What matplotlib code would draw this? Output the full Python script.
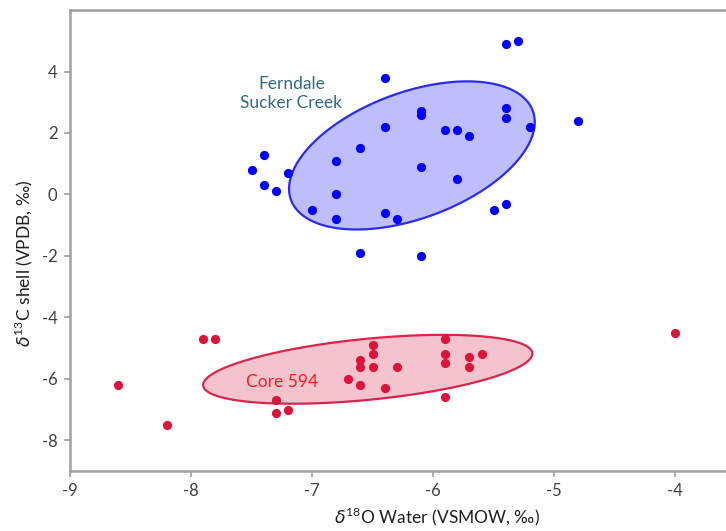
import numpy as np
import matplotlib
matplotlib.use("Agg")
import matplotlib.pyplot as plt

plt.rcParams['font.family'] = ['Lato', 'DejaVu Sans']
plt.rcParams['mathtext.fontset'] = 'custom'
plt.rcParams['mathtext.it'] = 'DejaVu Sans:italic'
plt.rcParams['mathtext.rm'] = 'Lato'

# Ferndale / Sucker Creek shells
ferndale_o18 = [-7.4, -7.5, -7.4, -7.3, -7.2, -6.8, -6.8, -7.0, -6.8, -6.6, -6.6,
                -5.4, -5.3, -6.4, -6.1, -6.1, -5.4, -5.4, -4.8, -5.2, -6.4,
                -5.9, -5.8, -5.7, -6.1, -5.8, -6.4, -6.3, -5.5, -5.4, -6.1]
ferndale_c13 = [1.3, 0.8, 0.3, 0.1, 0.7, 1.1, 0.0, -0.5, -0.8, 1.5, -1.9,
                4.9, 5.0, 3.8, 2.7, 2.6, 2.8, 2.5, 2.4, 2.2, 2.2,
                2.1, 2.1, 1.9, 0.9, 0.5, -0.6, -0.8, -0.5, -0.3, -2.0]

# Core 594 shells
core_o18 = [-8.6, -8.2, -7.9, -7.8, -7.3, -7.3, -7.2, -6.7, -6.6, -6.6, -6.6,
            -6.5, -6.5, -6.5, -6.3, -6.4, -5.9, -5.9, -5.9, -5.9, -5.7, -5.7,
            -5.6, -4.0]
core_c13 = [-6.2, -7.5, -4.7, -4.7, -6.7, -7.1, -7.0, -6.0, -5.4, -5.6, -6.2,
            -4.9, -5.2, -5.6, -5.6, -6.3, -4.7, -5.2, -5.5, -6.6, -5.3, -5.6,
            -5.2, -4.5]

# Ellipse outlines: centre, half-extent in x, half-extent in y, correlation
ferndale_ellipse = (-6.175, 1.27, 1.015, 2.41, 0.45)
core_ellipse = (-6.54, -5.69, 1.36, 1.12, 0.456)

x_ticks = [-9, -8, -7, -6, -5, -4]
y_ticks = [-8, -6, -4, -2, 0, 2, 4]


def ellipse_xy(cx, cy, rx, ry, rho, n=400):
    t = np.linspace(0, 2 * np.pi, n)
    x = cx + rx * np.cos(t)
    y = cy + ry * (rho * np.cos(t) + np.sqrt(1 - rho ** 2) * np.sin(t))
    return x, y


fig = plt.figure(figsize=(7.26, 5.31), dpi=100)
ax = fig.add_axes([0.0964, 0.113, 0.9036, 0.868])

ex, ey = ellipse_xy(*ferndale_ellipse)
ax.fill(ex, ey, facecolor='#BEBEFD', edgecolor='#2A2AF0', linewidth=1.6, zorder=1)
ex, ey = ellipse_xy(*core_ellipse)
ax.fill(ex, ey, facecolor='#F5C3CE', edgecolor='#D9254C', linewidth=1.6, zorder=1)

ax.scatter(ferndale_o18, ferndale_c13, s=44, color='#0000FF', linewidths=0, zorder=3)
ax.scatter(core_o18, core_c13, s=44, color='#DC1439', linewidths=0, zorder=3)

ax.text(-7.17, 3.28, 'Ferndale\nSucker Creek', color='#2E6B86', fontsize=12.5,
        ha='center', va='center', linespacing=1.25, zorder=4)
ax.text(-7.25, -6.1, 'Core 594', color='#FF1A1A', fontsize=12.5,
        ha='center', va='center', zorder=4)

ax.set_xlim(-9, -3.58)
ax.set_ylim(-9, 6)
ax.set_xticks(x_ticks)
ax.set_yticks(y_ticks)
ax.set_xticklabels([str(v) for v in x_ticks])
ax.set_yticklabels([str(v) for v in y_ticks])

for side in ('left', 'bottom', 'top'):
    ax.spines[side].set_color('#A0A0A0')
    ax.spines[side].set_linewidth(1.8)
ax.spines['right'].set_visible(False)

ax.tick_params(axis='both', colors='#A0A0A0', labelcolor='#404040',
               labelsize=12, length=4, width=1.2, direction='out', pad=5)

ax.set_xlabel(r'$\mathit{\delta}^{18}$O Water (VSMOW, ‰)', fontsize=12.5, color='#202020')
ax.set_ylabel(r'$\mathit{\delta}^{13}$C shell (VPDB, ‰)', fontsize=12.5, color='#202020')
ax.xaxis.set_label_coords(0.56, -0.1, transform=ax.transAxes)
ax.yaxis.set_label_coords(-0.07, 0.451, transform=ax.transAxes)
ax.xaxis.label.set_va('center')
ax.yaxis.label.set_va('center')

fig.savefig('out.png', dpi=100)
